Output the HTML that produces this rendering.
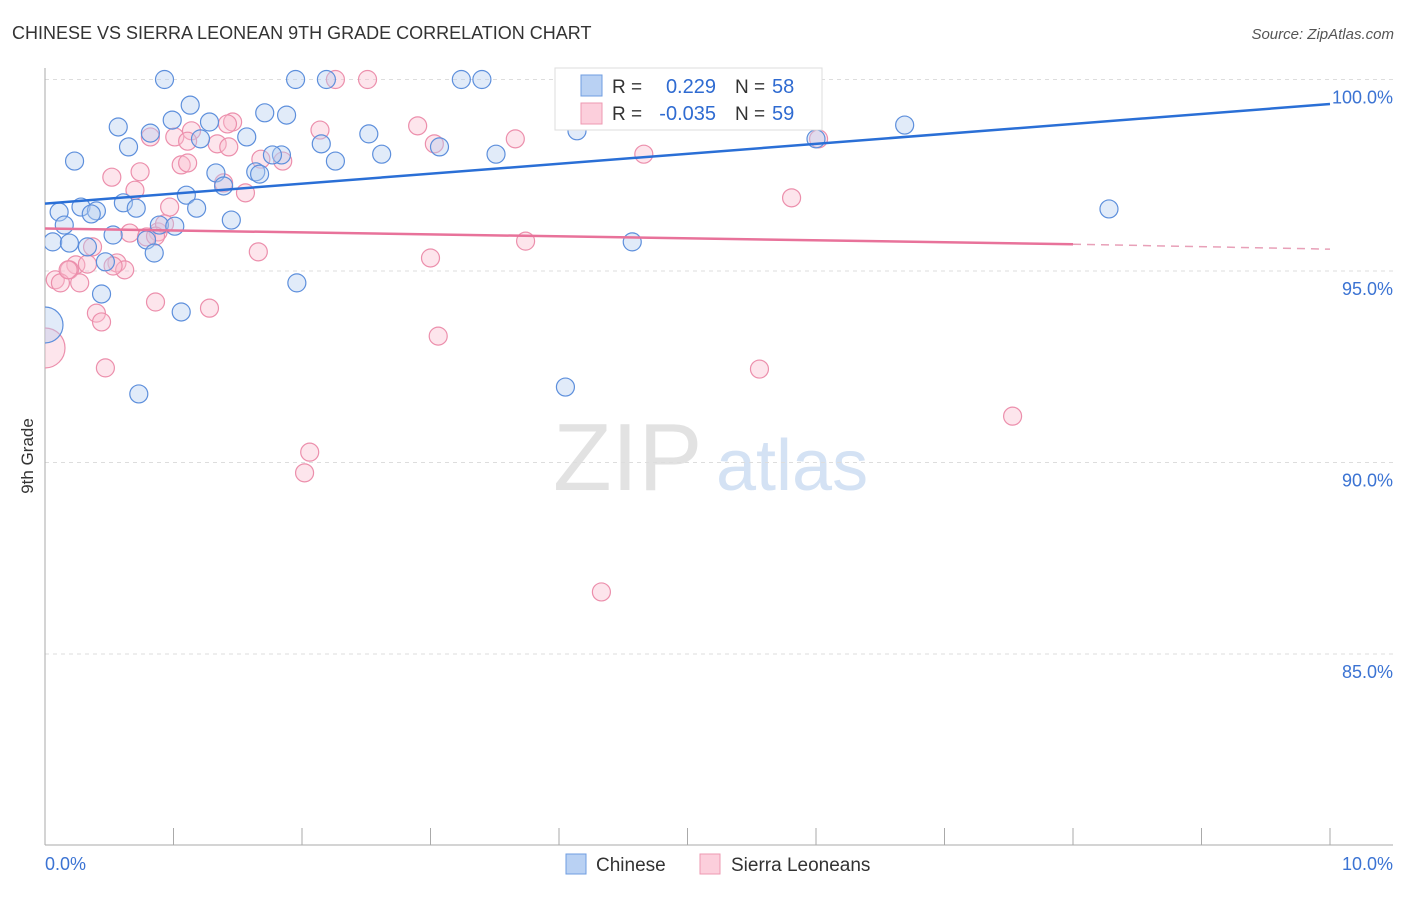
<!DOCTYPE html>
<html><head><meta charset="utf-8"><style>
body{margin:0;background:#fff;font-family:"Liberation Sans",sans-serif}
svg text{font-family:"Liberation Sans",sans-serif}
</style></head><body>
<svg id="c" width="1406" height="892">
<defs><clipPath id="plotclip"><rect x="45" y="60" width="1360" height="785"/></clipPath></defs>
<text x="12" y="39" font-size="18" fill="#333">CHINESE VS SIERRA LEONEAN 9TH GRADE CORRELATION CHART</text>
<text x="1394" y="39" font-size="15" fill="#555" text-anchor="end" font-style="italic">Source: ZipAtlas.com</text>
<text x="33" y="456" font-size="17" fill="#333" text-anchor="middle" transform="rotate(-90 33 456)">9th Grade</text>
<g><text x="553" y="490" font-size="96" fill="#e2e2e2" font-family="Liberation Serif,serif">ZIP</text><text x="716" y="490" font-size="72" fill="#d4e2f4">atlas</text></g>
<g id="grid"></g><g id="axes"></g><g id="pts" clip-path="url(#plotclip)"></g><g id="lines"></g>
<g>
<rect x="555" y="68" width="267" height="62" fill="#fff" stroke="#ddd"/>
<rect x="581" y="75" width="21" height="21" fill="#b9d1f3" stroke="#6f9de0"/>
<rect x="581" y="103" width="21" height="21" fill="#fccfdc" stroke="#ee98b2"/>
<text x="612" y="93" font-size="19" fill="#333">R = </text><text x="716" y="93" font-size="20" fill="#2f6bd1" text-anchor="end">0.229</text>
<text x="735" y="93" font-size="19" fill="#333">N = </text><text x="772" y="93" font-size="20" fill="#2f6bd1">58</text>
<text x="612" y="120" font-size="19" fill="#333">R = </text><text x="716" y="120" font-size="20" fill="#2f6bd1" text-anchor="end">-0.035</text>
<text x="735" y="120" font-size="19" fill="#333">N = </text><text x="772" y="120" font-size="20" fill="#2f6bd1">59</text>
</g>
<g>
<rect x="566" y="854" width="20" height="20" fill="#b9d1f3" stroke="#6f9de0"/>
<text x="596" y="871" font-size="19" fill="#333">Chinese</text>
<rect x="700" y="854" width="20" height="20" fill="#fccfdc" stroke="#ee98b2"/>
<text x="731" y="871" font-size="19" fill="#333">Sierra Leoneans</text>
</g>
</svg>
<script>
const blueX=[0.93,1.95,2.19,3.24,3.40,1.13,0.57,0.82,0.65,0.99,1.28,1.71,1.88,1.57,1.21,2.15,2.52,4.14,0.23,1.84,1.77,2.26,2.62,3.07,3.51,6.69,6.00,1.33,1.64,1.67,1.39,1.10,0.61,0.71,1.18,0.11,0.28,0.40,0.36,0.15,0.89,1.01,1.45,8.28,0.06,0.19,0.33,0.53,0.79,0.85,0.47,4.57,1.96,0.44,1.06,0.0,4.05,0.73];
const blueY=[100,100,100,100,100,99.33,98.76,98.60,98.24,98.94,98.89,99.13,99.07,98.50,98.45,98.32,98.58,98.66,97.87,98.03,98.03,97.87,98.05,98.24,98.05,98.81,98.45,97.56,97.59,97.53,97.22,96.98,96.78,96.64,96.64,96.54,96.67,96.57,96.49,96.20,96.20,96.17,96.33,96.62,95.76,95.73,95.63,95.94,95.81,95.47,95.24,95.76,94.69,94.40,93.93,93.59,91.97,91.79];
const blueR=[9,9,9,9,9,9,9,9,9,9,9,9,9,9,9,9,9,9,9,9,9,9,9,9,9,9,9,9,9,9,9,9,9,9,9,9,9,9,9,9,9,9,9,9,9,9,9,9,9,9,9,9,9,9,9,18,9,9];
const pinkX=[2.26,2.51,4.31,1.46,1.42,2.14,2.90,1.01,1.14,0.82,1.34,1.43,3.03,3.66,6.02,4.66,1.68,1.85,1.06,1.11,0.74,0.52,1.39,0.70,1.56,5.81,0.97,0.88,0.66,0.79,0.37,1.66,3.74,3.00,0.24,0.33,0.56,0.19,0.62,0.08,0.27,0.12,0.86,1.28,0.40,0.44,0,3.06,0.47,5.56,7.53,2.06,2.02,4.33,0.93,0.86,0.53,1.11,0.18];
const pinkY=[100,100,100,98.89,98.84,98.68,98.79,98.50,98.66,98.50,98.32,98.24,98.32,98.45,98.45,98.05,97.92,97.87,97.77,97.82,97.59,97.45,97.30,97.11,97.04,96.91,96.67,96.02,95.99,95.89,95.63,95.50,95.78,95.34,95.16,95.18,95.21,95.03,95.03,94.77,94.69,94.69,94.19,94.03,93.90,93.67,92.99,93.30,92.47,92.44,91.21,90.27,89.73,86.62,96.23,95.91,95.13,98.39,95.03];
const pinkR=[9,9,9,9,9,9,9,9,9,9,9,9,9,9,9,9,9,9,9,9,9,9,9,9,9,9,9,9,9,9,9,9,9,9,9,9,9,9,9,9,9,9,9,9,9,9,20,9,9,9,9,9,9,9,9,9,9,9,9];
const yTicks=[100,95,90,85];
const yTickLabels=["100.0%","95.0%","90.0%","85.0%"];
const xTicks=[0,1,2,3,4,5,6,7,8,9,10];
const blueTrend=[[0,96.76],[10,99.36]];
const pinkTrend=[[0,96.11],[8,95.70]];
const pinkTrendDash=[[8,95.70],[10,95.57]];
const NS="http://www.w3.org/2000/svg";
const X=v=>45+v*128.5, Y=v=>79.5+(100-v)*38.3;
function mk(parent,tag,attrs){const e=document.createElementNS(NS,tag);for(const k in attrs)e.setAttribute(k,attrs[k]);document.getElementById(parent).appendChild(e);return e;}
yTicks.forEach((t,i)=>{
 const g=mk('grid','line',{x1:45,x2:1393,y1:Y(t),y2:Y(t),stroke:'#ddd','stroke-dasharray':'4,4'});
 
 
 const l=mk('axes','text',{x:1393,y:Y(t)+24,'font-size':18,fill:'#3b73d3','text-anchor':'end'});
 l.textContent=yTickLabels[i];
 
 
});
const ya=mk('axes','line',{x1:45,x2:45,y1:68,y2:845,stroke:'#aaa'});


const xa=mk('axes','line',{x1:45,x2:1393,y1:845,y2:845,stroke:'#aaa'});


xTicks.forEach(t=>{
 const k=mk('axes','line',{x1:X(t),x2:X(t),y1:828,y2:845,stroke:'#aaa'});
 
 
});
const x0=mk('axes','text',{x:45,y:870,'font-size':18,fill:'#3b73d3'});x0.textContent='0.0%';


const x1=mk('axes','text',{x:1393,y:870,'font-size':18,fill:'#3b73d3','text-anchor':'end'});x1.textContent='10.0%';


function pts(xs,ys,rs,fill,stroke,name){xs.forEach((v,i)=>{
 const c=mk('pts','circle',{cx:X(v),cy:Y(ys[i]),r:rs[i],fill:fill,'fill-opacity':0.4,stroke:stroke,'stroke-width':1.2});
 
 
});}
pts(pinkX,pinkY,pinkR,'#f9bfd0','#ec8fac','point-sierra-leonean');
pts(blueX,blueY,blueR,'#b3cdf1','#5d8fdc','point-chinese');
function ln(d,col,dash,name){const e=mk('lines','line',{x1:X(d[0][0]),y1:Y(d[0][1]),x2:X(d[1][0]),y2:Y(d[1][1]),stroke:col,'stroke-width':dash?1.5:2.5});
 if(dash)e.setAttribute('stroke-dasharray','8,6');
 
 }
ln(blueTrend,'#2a6fd6',false,'trendline-chinese');
ln(pinkTrend,'#e8729a',false,'trendline-sierra-leonean');
ln(pinkTrendDash,'#e8a0b8',true,'trendline-sierra-leonean-extension');
</script>
</body></html>
